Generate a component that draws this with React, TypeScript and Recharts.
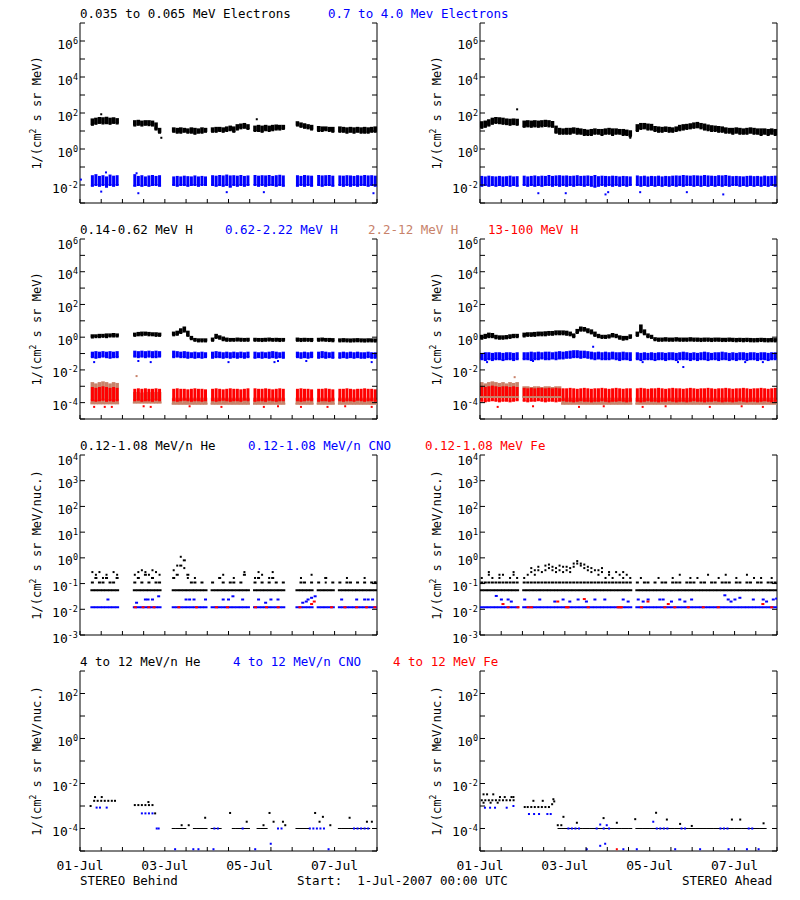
import React from 'react'
import { ScatterChart, Scatter, XAxis, YAxis, ErrorBar } from 'recharts'

const _ = null

// time axis: hours since 1-Jul-2007 00:00, slot i of a 2-hour array sits at hour 2i+1
const hourTicks = [0, 12, 24, 36, 48, 60, 72, 84, 96, 108, 120, 132, 144, 156, 168]
const dateTicks = [0, 48, 96, 144]
const dateLabels = ['01-Jul', '03-Jul', '05-Jul', '07-Jul']

// y ticks per row
const row1Ticks = [1e-3, 1e-2, 1e-1, 1, 10, 1e2, 1e3, 1e4, 1e5, 1e6, 1e7]
const row1Labels = [1e-2, 1, 1e2, 1e4, 1e6]
const row2Ticks = [1e-5, 1e-4, 1e-3, 1e-2, 1e-1, 1, 10, 1e2, 1e3, 1e4, 1e5, 1e6]
const row2Labels = [1e-4, 1e-2, 1, 1e2, 1e4, 1e6]
const row3Ticks = [1e-3, 1e-2, 1e-1, 1, 10, 1e2, 1e3, 1e4]
const row3Labels = [1e-3, 1e-2, 1e-1, 1, 10, 1e2, 1e3, 1e4]
const row4Ticks = [1e-5, 1e-4, 1e-3, 1e-2, 1e-1, 1, 10, 1e2, 1e3]
const row4Labels = [1e-4, 1e-2, 1, 1e2]

// ---------- row 1: electrons, STEREO Behind ----------
const e1BkLoB = [
  _, _, _, 22, 25, 28, 26, 27, 25, 28, 26, _,
  _, _, _, 20, 22, 20, 22, 21, 20, 12, 8, _,
  _, _, 9, 8, 8, 9, 8, 8, 7, 8, 8, 9,
  _, 9, 9, 10, 9, 10, 11, 9, 12, 14, 15, 13,
  _, 10, 10, 9, 11, 10, 11, 12, 12, 13, _, _,
  _, 20, 17, 15, 14, 12, _, 10, 10, 11, 10, 9,
  _, 9, 9, 8, 9, 8, 9, 8, 8, 8, 9, 9,
]
const e1BkHiB = [
  _, _, _, 50, 55, 60, 58, 62, 55, 58, 52, _,
  _, _, _, 40, 42, 38, 40, 40, 38, 30, 15, _,
  _, _, 16, 15, 16, 15, 14, 16, 15, 14, 16, 15,
  _, 16, 17, 17, 16, 18, 20, 18, 24, 26, 28, 24,
  _, 20, 22, 20, 22, 20, 22, 23, 22, 22, _, _,
  _, 35, 30, 27, 24, 22, _, 19, 18, 18, 17, 17,
  _, 18, 17, 16, 17, 16, 17, 16, 17, 16, 17, 18,
]
const e1BlLoB = [
  _, _, _, .009, .01, .009, .01, .008, .01, .009, .01, _,
  _, _, _, .009, .01, .009, .01, .009, .01, .01, .009, _,
  _, _, .01, .009, .01, .01, .009, .01, .01, .009, .01, .01,
  _, .01, .009, .01, .009, .01, .008, .01, .009, .01, .009, .01,
  _, .01, .009, .01, .009, .01, .01, .009, .01, .009, _, _,
  _, .009, .01, .009, .01, .009, _, .01, .009, .01, .01, .009,
  _, .01, .009, .01, .009, .01, .009, .01, .01, .009, .01, .009,
]
const e1BlHiB = [
  _, _, _, .035, .04, .032, .035, .03, .038, .033, .035, _,
  _, _, _, .04, .032, .035, .03, .034, .036, .032, .035, _,
  _, _, .03, .032, .03, .033, .031, .03, .034, .03, .032, .03,
  _, .035, .033, .036, .034, .038, .034, .035, .033, .036, .032, .034,
  _, .036, .033, .035, .034, .036, .032, .035, .037, .034, _, _,
  _, .035, .032, .036, .034, .033, _, .036, .034, .035, .036, .033,
  _, .034, .033, .035, .034, .032, .035, .033, .036, .034, .035, .033,
]
const e1BkOutB = [[12, 85], [46, 4.2], [100, 45]]
const e1BlOutB = [[0.5, .02], [12, .0043], [14.7, .05], [32, .045], [33, .0035], [83, .004], [104, .004], [166, .0035]]

// ---------- row 1: electrons, STEREO Ahead ----------
const e1BkLoA = [
  15, 17, 20, 25, 28, 27, 25, 24, 22, 24, 22, _,
  17, 18, 17, 18, 17, 18, 19, 18, 17, 8, 7, 7,
  7, 7, 8, 7, 7, 6, 6, 6, 7, 7, 6, 7,
  7, 6, 7, 7, 6, 6, 5, _, 10, 13, 14, 12,
  12, 10, 9, 9, 10, 9, 9, 10, 11, 12, 13, 14,
  15, 16, 14, 12, 11, 10, 10, 9, 9, 8, 8, 7,
  8, 7, 7, 7, 8, 7, 7, 6, 7, 6, 7, 6,
]
const e1BkHiA = [
  35, 38, 45, 55, 60, 58, 55, 50, 48, 50, 48, _,
  38, 40, 38, 40, 38, 40, 42, 40, 36, 20, 15, 14,
  15, 15, 16, 15, 14, 13, 12, 13, 14, 13, 13, 14,
  15, 14, 14, 13, 13, 12, 11, _, 24, 28, 28, 26,
  25, 19, 18, 17, 18, 17, 16, 18, 22, 24, 25, 27,
  30, 32, 28, 26, 23, 21, 20, 19, 18, 16, 15, 15,
  16, 15, 14, 15, 16, 15, 14, 14, 14, 13, 14, 13,
]
const e1BlLoA = [
  .009, .01, .009, .01, .009, .01, .009, .01, .009, .01, .009, _,
  .01, .009, .01, .009, .01, .009, .01, .01, .009, .01, .009, .01,
  .009, .01, .009, .01, .01, .009, .01, .009, .008, .009, .01, .009,
  .01, .009, .01, .009, .01, .009, .01, _, .01, .009, .01, .009,
  .01, .009, .01, .009, .01, .009, .01, .009, .01, .009, .01, .01,
  .009, .01, .009, .01, .009, .01, .009, .01, .009, .01, .009, .01,
  .01, .009, .01, .009, .01, .009, .01, .009, .01, .009, .01, .009,
]
const e1BlHiA = [
  .032, .03, .033, .031, .03, .032, .03, .031, .033, .03, .031, _,
  .033, .03, .032, .034, .031, .033, .032, .036, .032, .034, .035, .033,
  .034, .032, .033, .035, .032, .033, .034, .032, .036, .031, .033, .032,
  .031, .033, .032, .03, .032, .031, .03, _, .034, .031, .033, .03,
  .032, .031, .033, .03, .032, .031, .033, .034, .033, .036, .034, .033,
  .035, .034, .033, .036, .034, .033, .032, .035, .034, .036, .033, .031,
  .032, .031, .03, .032, .033, .031, .032, .03, .033, .031, .032, .033,
]
const e1BkOutA = [[21, 160], [85, 4.2]]
const e1BlOutA = [[33, .0035], [48.5, .0035], [71, .003], [72.5, .004], [90.6, .004], [117, .004], [137.6, .003]]

// ---------- row 2: protons, Behind ----------
const h2BkLoB = [
  _, _, _, .95, 1, 1, 1.05, 1, 1.1, 1.1, 1.1, _,
  _, _, _, 1.2, 1.3, 1.3, 1.4, 1.3, 1.3, 1.2, 1.2, _,
  _, _, 1.3, 1.4, 1.8, 2.2, 1.2, .75, .6, .55, .55, .55,
  _, .6, .9, .8, .65, .6, .6, .6, .62, .6, .6, .6,
  _, .6, .6, .58, .6, .62, .6, .6, .58, .6, _, _,
  _, .6, .58, .6, .6, .58, _, .6, .62, .6, .58, .56,
  _, .55, .56, .55, .54, .55, .56, .55, .54, .55, .55, .54,
]
const h2BkHiB = [
  _, _, _, 1.5, 1.5, 1.6, 1.6, 1.7, 1.7, 1.8, 1.7, _,
  _, _, _, 1.9, 2.1, 2.2, 2.2, 2.1, 2, 2, 1.9, _,
  _, _, 2.2, 2.5, 3.5, 4.5, 2.5, 1.2, .9, .85, .85, .85,
  _, .95, 1.6, 1.3, 1.1, .95, .9, .9, .95, .92, .9, .92,
  _, .92, .9, .9, .92, .95, .9, .92, .9, .9, _, _,
  _, .95, .9, .92, .9, .9, _, .92, .95, .9, .9, .88,
  _, .85, .88, .85, .84, .86, .88, .85, .84, .86, .85, .84,
]
const h2BlLoB = [
  _, _, _, .06, .055, .06, .065, .06, .055, .06, .06, _,
  _, _, _, .065, .06, .065, .06, .065, .06, .06, .065, _,
  _, _, .06, .065, .06, .06, .055, .06, .055, .06, .055, .06,
  _, .055, .06, .06, .055, .06, .055, .06, .055, .06, .055, .06,
  _, .055, .06, .055, .06, .055, .06, .055, .06, .055, _, _,
  _, .06, .055, .06, .055, .06, _, .055, .06, .055, .06, .055,
  _, .055, .06, .055, .06, .055, .06, .055, .055, .06, .055, .055,
]
const h2BlHiB = [
  _, _, _, .13, .14, .13, .14, .13, .14, .13, .14, _,
  _, _, _, .15, .14, .15, .14, .15, .14, .15, .14, _,
  _, _, .15, .14, .13, .14, .13, .12, .13, .12, .13, .12,
  _, .13, .14, .13, .12, .13, .12, .13, .12, .13, .12, .13,
  _, .13, .12, .13, .12, .13, .14, .13, .12, .13, _, _,
  _, .13, .12, .13, .12, .13, _, .13, .14, .13, .12, .13,
  _, .12, .13, .12, .13, .12, .13, .12, .12, .13, .12, .12,
]
const h2SaLoB = [
  _, _, _, 9e-5, 9e-5, 9e-5, 9e-5, 9e-5, 9e-5, 9e-5, 9e-5, _,
  _, _, _, 1e-4, 1e-4, 1e-4, 1e-4, 1e-4, 1e-4, 1e-4, 1e-4, _,
  _, _, 8.5e-5, 8.5e-5, 8.5e-5, 8.5e-5, 8.5e-5, 8.5e-5, 8.5e-5, 8.5e-5, 8.5e-5, 8.5e-5,
  _, 8.5e-5, 8.5e-5, 8.5e-5, 8.5e-5, 8.5e-5, 8.5e-5, 8.5e-5, 8.5e-5, 8.5e-5, 8.5e-5, 8.5e-5,
  _, 8.5e-5, 8.5e-5, 8.5e-5, 8.5e-5, 8.5e-5, 8.5e-5, 8.5e-5, 8.5e-5, 8.5e-5, _, _,
  _, 8.5e-5, 8.5e-5, 8.5e-5, 8.5e-5, 8.5e-5, _, 8.5e-5, 8.5e-5, 8.5e-5, 8.5e-5, 8.5e-5,
  _, 8.5e-5, 8.5e-5, 8.5e-5, 8.5e-5, 8.5e-5, 8.5e-5, 8.5e-5, 8.5e-5, 8.5e-5, 8.5e-5, 8.5e-5,
]
const h2SaHiB = [
  _, _, _, 1.8e-3, 1.5e-3, 1.8e-3, 2e-3, 1.8e-3, 1.5e-3, 1.8e-3, 1.6e-3, _,
  _, _, _, 4.5e-4, 4.5e-4, 4e-4, 4.5e-4, 4.5e-4, 4e-4, 4.5e-4, 4.5e-4, _,
  _, _, 2e-4, 2e-4, 2e-4, 2e-4, 2e-4, 2e-4, 2e-4, 2e-4, 2e-4, 2e-4,
  _, 2e-4, 2e-4, 2e-4, 2e-4, 2e-4, 2e-4, 2e-4, 2e-4, 2e-4, 2e-4, 2e-4,
  _, 2e-4, 2e-4, 2e-4, 2e-4, 2e-4, 2e-4, 2e-4, 2e-4, 2e-4, _, _,
  _, 2e-4, 2e-4, 2e-4, 2e-4, 2e-4, _, 2e-4, 2e-4, 2e-4, 2e-4, 2e-4,
  _, 2e-4, 2e-4, 2e-4, 2e-4, 2e-4, 2e-4, 2e-4, 2e-4, 2e-4, 2e-4, 2e-4,
]
const h2RdLoB = [
  _, _, _, 1.4e-4, 1.3e-4, 1.4e-4, 1.5e-4, 1.3e-4, 1.4e-4, 1.3e-4, 1.4e-4, _,
  _, _, _, 1.4e-4, 1.5e-4, 1.3e-4, 1.4e-4, 1.4e-4, 1.3e-4, 1.5e-4, 1.4e-4, _,
  _, _, 1.4e-4, 1.3e-4, 1.4e-4, 1.5e-4, 1.4e-4, 1.3e-4, 1.4e-4, 1.4e-4, 1.3e-4, 1.4e-4,
  _, 1.4e-4, 1.3e-4, 1.4e-4, 1.5e-4, 1.4e-4, 1.3e-4, 1.4e-4, 1.4e-4, 1.3e-4, 1.5e-4, 1.4e-4,
  _, 1.3e-4, 1.4e-4, 1.4e-4, 1.3e-4, 1.5e-4, 1.4e-4, 1.3e-4, 1.4e-4, 1.4e-4, _, _,
  _, 1.4e-4, 1.3e-4, 1.4e-4, 1.5e-4, 1.4e-4, _, 1.3e-4, 1.4e-4, 1.4e-4, 1.3e-4, 1.4e-4,
  _, 1.4e-4, 1.3e-4, 1.4e-4, 1.4e-4, 1.3e-4, 1.5e-4, 1.4e-4, 1.3e-4, 1.4e-4, 1.4e-4, 1.3e-4,
]
const h2RdHiB = [
  _, _, _, 9e-4, 8e-4, 9e-4, 1e-3, 9e-4, 8e-4, 9e-4, 8e-4, _,
  _, _, _, 7e-4, 7.5e-4, 7e-4, 7.5e-4, 7e-4, 7e-4, 7.5e-4, 7e-4, _,
  _, _, 7e-4, 7.5e-4, 7e-4, 7e-4, 6.5e-4, 7e-4, 7.5e-4, 7e-4, 7e-4, 6.5e-4,
  _, 7e-4, 7.5e-4, 7e-4, 6.5e-4, 7e-4, 7.5e-4, 7e-4, 7e-4, 6.5e-4, 7e-4, 7.5e-4,
  _, 7.5e-4, 7e-4, 7e-4, 7.5e-4, 7e-4, 6.5e-4, 7e-4, 7.5e-4, 7e-4, _, _,
  _, 7e-4, 7.5e-4, 7e-4, 7e-4, 6.5e-4, _, 7e-4, 7e-4, 7.5e-4, 7e-4, 6.5e-4,
  _, 7e-4, 7e-4, 7.5e-4, 7e-4, 6.5e-4, 7e-4, 7e-4, 7.5e-4, 7e-4, 7e-4, 6.5e-4,
]
const h2BlOutB = [[8, .03], [33, .035], [40, .03], [84, .03], [110, .03], [112, .035], [128, .035], [165, .03]]
const h2SaOutB = [[32, 4.2e-3]]
const h2RdOutB = [[8, 5.5e-5], [14, 5.5e-5], [18, 5.5e-5], [36, 6e-5], [40, 5.5e-5], [62, 6e-5], [80, 5.5e-5], [104, 5.5e-5], [112, 6e-5], [125, 5.5e-5], [140, 5.5e-5], [150, 6e-5], [165, 5.5e-5]]

// ---------- row 2: protons, Ahead ----------
const h2BkLoA = [
  .8, .9, 1, 1, .85, .8, .8, .85, .9, 1, 1, _,
  1.1, 1.2, 1.2, 1.2, 1.3, 1.3, 1.3, 1.4, 1.4, 1.5, 1.5, 1.5,
  1.4, 1.3, 1, 1.8, 2.5, 2.5, 2, 1.7, 1.2, 1, .9, .9,
  .95, 1.1, 1, .8, .7, .75, .9, _, 1.2, 2, 1.5, 1,
  .9, .65, .6, .6, .62, .6, .6, .62, .6, .6, .6, .62,
  .6, .6, .58, .6, .6, .58, .6, .6, .58, .58, .6, .58,
  .56, .58, .56, .58, .56, .55, .56, .58, .56, .55, .56, .55,
]
const h2BkHiA = [
  1.4, 1.6, 1.9, 1.8, 1.4, 1.3, 1.3, 1.35, 1.5, 1.6, 1.6, _,
  1.9, 2, 2, 2.1, 2.2, 2.2, 2.3, 2.4, 2.4, 2.6, 2.6, 2.6,
  2.5, 2.2, 1.7, 3.2, 4.5, 4.2, 3.5, 3, 2.2, 1.6, 1.4, 1.4,
  1.5, 1.8, 1.6, 1.3, 1.2, 1.2, 1.5, _, 2.2, 6, 3, 1.7,
  1.4, 1, .95, .95, 1, .95, .95, 1, .95, .95, .95, 1,
  .95, .95, .92, .95, .95, .92, .95, .95, .92, .92, .95, .92,
  .9, .92, .9, .92, .9, .88, .9, .92, .9, .88, .9, .88,
]
const h2BlLoA = [
  .045, .04, .045, .04, .045, .045, .04, .045, .045, .04, .045, _,
  .045, .045, .04, .045, .045, .05, .045, .045, .05, .045, .05, .05,
  .055, .055, .06, .06, .055, .06, .055, .05, .045, .05, .045, .045,
  .045, .05, .045, .04, .045, .045, .04, _, .045, .04, .045, .045,
  .045, .04, .045, .045, .04, .045, .045, .04, .045, .045, .045, .04,
  .045, .04, .045, .045, .04, .045, .045, .04, .045, .045, .04, .045,
  .04, .045, .045, .04, .045, .045, .04, .045, .045, .04, .045, .045,
]
const h2BlHiA = [
  .11, .12, .12, .11, .12, .12, .11, .12, .12, .11, .12, _,
  .12, .12, .13, .12, .13, .12, .13, .13, .12, .13, .14, .13,
  .14, .15, .16, .16, .15, .15, .14, .13, .12, .13, .12, .13,
  .12, .13, .12, .12, .13, .12, .12, _, .12, .11, .12, .11,
  .12, .11, .12, .12, .11, .12, .12, .11, .12, .13, .12, .11,
  .12, .11, .12, .13, .12, .11, .12, .12, .13, .12, .11, .12,
  .11, .12, .12, .11, .12, .12, .11, .12, .12, .11, .12, .12,
]
const h2SaLoA = [
  2.2e-4, 2.2e-4, 2.2e-4, 2.2e-4, 2.2e-4, 2.2e-4, 2.2e-4, 2.2e-4, 2.2e-4, 2.2e-4, 2.2e-4, _,
  2.2e-4, 2.2e-4, 2.2e-4, 2.2e-4, 2.2e-4, 2.2e-4, 2.2e-4, 2.2e-4, 2.2e-4, 2.2e-4, 2.2e-4, 8.5e-5,
  8.5e-5, 8.5e-5, 8.5e-5, 8.5e-5, 8.5e-5, 8.5e-5, 8.5e-5, 8.5e-5, 8.5e-5, 8.5e-5, 8.5e-5, 8.5e-5,
  8.5e-5, 8.5e-5, 8.5e-5, 8.5e-5, 8.5e-5, 8.5e-5, 8.5e-5, _, 8.5e-5, 8.5e-5, 8.5e-5, 8.5e-5,
  8.5e-5, 8.5e-5, 8.5e-5, 8.5e-5, 8.5e-5, 8.5e-5, 8.5e-5, 8.5e-5, 8.5e-5, 8.5e-5, 8.5e-5, 8.5e-5,
  8.5e-5, 8.5e-5, 8.5e-5, 8.5e-5, 8.5e-5, 8.5e-5, 8.5e-5, 8.5e-5, 8.5e-5, 8.5e-5, 8.5e-5, 8.5e-5,
  8.5e-5, 8.5e-5, 8.5e-5, 8.5e-5, 8.5e-5, 8.5e-5, 8.5e-5, 8.5e-5, 8.5e-5, 8.5e-5, 8.5e-5, 8.5e-5,
]
const h2SaHiA = [
  1.8e-3, 1.5e-3, 1.8e-3, 2e-3, 1.8e-3, 1.6e-3, 1.8e-3, 1.5e-3, 1.8e-3, 1.6e-3, 1.8e-3, _,
  1e-3, 1e-3, 9e-4, 1e-3, 1e-3, 9e-4, 1e-3, 1e-3, 9e-4, 1e-3, 1e-3, 2e-4,
  2e-4, 2e-4, 2e-4, 2e-4, 2e-4, 2e-4, 2e-4, 2e-4, 2e-4, 2e-4, 2e-4, 2e-4,
  2e-4, 2e-4, 2e-4, 2e-4, 2e-4, 2e-4, 2e-4, _, 2e-4, 2e-4, 2e-4, 2e-4,
  2e-4, 2e-4, 2e-4, 2e-4, 2e-4, 2e-4, 2e-4, 2e-4, 2e-4, 2e-4, 2e-4, 2e-4,
  2e-4, 2e-4, 2e-4, 2e-4, 2e-4, 2e-4, 2e-4, 2e-4, 2e-4, 2e-4, 2e-4, 2e-4,
  2e-4, 2e-4, 2e-4, 2e-4, 2e-4, 2e-4, 2e-4, 2e-4, 2e-4, 2e-4, 2e-4, 2e-4,
]
const h2RdLoA = [
  1.3e-4, 1.2e-4, 1.3e-4, 1.4e-4, 1.3e-4, 1.2e-4, 1.3e-4, 1.3e-4, 1.2e-4, 1.3e-4, 1.4e-4, _,
  1.3e-4, 1.2e-4, 1.3e-4, 1.3e-4, 1.4e-4, 1.3e-4, 1.2e-4, 1.3e-4, 1.3e-4, 1.2e-4, 1.3e-4, 1.4e-4,
  1.3e-4, 1.3e-4, 1.2e-4, 1.3e-4, 1.4e-4, 1.3e-4, 1.3e-4, 1.2e-4, 1.3e-4, 1.3e-4, 1.4e-4, 1.3e-4,
  1.2e-4, 1.3e-4, 1.3e-4, 1.4e-4, 1.3e-4, 1.2e-4, 1.3e-4, _, 1.3e-4, 1.2e-4, 1.3e-4, 1.4e-4,
  1.3e-4, 1.3e-4, 1.2e-4, 1.3e-4, 1.3e-4, 1.4e-4, 1.3e-4, 1.2e-4, 1.3e-4, 1.3e-4, 1.2e-4, 1.3e-4,
  1.4e-4, 1.3e-4, 1.3e-4, 1.2e-4, 1.3e-4, 1.3e-4, 1.4e-4, 1.3e-4, 1.2e-4, 1.3e-4, 1.3e-4, 1.2e-4,
  1.3e-4, 1.4e-4, 1.3e-4, 1.2e-4, 1.3e-4, 1.3e-4, 1.2e-4, 1.3e-4, 1.4e-4, 1.3e-4, 1.2e-4, 1.3e-4,
]
const h2RdHiA = [
  1e-3, 9e-4, 1e-3, 1.1e-3, 1e-3, 9e-4, 1e-3, 1e-3, 9e-4, 1e-3, 9e-4, _,
  8e-4, 7.5e-4, 8e-4, 7.5e-4, 8e-4, 8e-4, 7.5e-4, 8e-4, 7.5e-4, 8e-4, 7.5e-4, 7.5e-4,
  7.5e-4, 8e-4, 7.5e-4, 7e-4, 7.5e-4, 8e-4, 7.5e-4, 7e-4, 7.5e-4, 7.5e-4, 8e-4, 7.5e-4,
  7e-4, 7.5e-4, 8e-4, 7.5e-4, 7e-4, 7.5e-4, 7.5e-4, _, 7.5e-4, 8e-4, 7.5e-4, 7e-4,
  7.5e-4, 7.5e-4, 8e-4, 7.5e-4, 7e-4, 7.5e-4, 8e-4, 7.5e-4, 7.5e-4, 7e-4, 7.5e-4, 8e-4,
  7.5e-4, 7e-4, 7.5e-4, 7.5e-4, 8e-4, 7.5e-4, 7e-4, 7.5e-4, 7.5e-4, 8e-4, 7.5e-4, 7e-4,
  7.5e-4, 7.5e-4, 8e-4, 7.5e-4, 7e-4, 7.5e-4, 7.5e-4, 8e-4, 7.5e-4, 7e-4, 7.5e-4, 8e-4,
]
const h2BlOutA = [[4, .03], [30, .035], [64, .26], [92, .03], [112, .03], [115, .015], [150, .03], [160, .03]]
const h2SaOutA = [[19.6, 3.6e-3]]
const h2RdOutA = [[10, 5.5e-5], [30, 6e-5], [56, 5.5e-5], [70, 6e-5], [92, 5.5e-5], [105, 6e-5], [130, 5.5e-5], [148, 6e-5], [160, 5.5e-5]]

// ---------- row 3: 0.12-1.08 MeV/n ions ----------
const he1 = 0.055
const cno1 = 0.012
const he3BaseB = [
  _, _, _, he1, he1, he1, he1, he1, he1, he1, he1, _,
  _, _, _, he1, he1, he1, he1, he1, he1, he1, he1, _,
  _, _, he1, he1, he1, he1, he1, he1, he1, he1, he1, he1,
  _, he1, he1, he1, he1, he1, he1, he1, he1, he1, he1, he1,
  _, he1, he1, he1, he1, he1, he1, he1, he1, he1, _, _,
  _, he1, he1, he1, he1, he1, _, he1, he1, he1, he1, he1,
  _, he1, he1, he1, he1, he1, he1, he1, he1, he1, he1, he1,
]
const he3Up1B = [
  _, _, _, .11, .165, .11, .11, .165, .11, .11, .165, _,
  _, _, _, .11, .165, .11, .22, .11, .165, .11, .11, _,
  _, _, .165, .22, .5, .8, .22, .11, .11, _, .11, _,
  _, .11, _, .165, .11, _, .11, .11, _, .11, .22, _,
  _, .11, .165, .11, _, .11, .165, .11, _, .11, _, _,
  _, _, .11, .11, _, .11, _, .11, _, .165, _, .11,
  _, .11, _, .11, .11, _, .11, _, .11, _, .11, .11,
]
const he3Up2B = [
  _, _, _, .28, .22, .28, .165, .22, _, .28, .22, _,
  _, _, _, .22, .28, .33, .28, .22, .33, .28, .22, _,
  _, _, .33, .5, 1.1, .4, .165, _, .165, _, _, _,
  _, _, _, _, .22, _, _, .165, _, _, .28, _,
  _, .165, .28, .22, _, .165, .28, _, _, _, _, _,
  _, _, .165, _, _, .22, _, _, _, .11, _, _,
  _, _, _, .165, _, _, _, _, .165, _, _, .11,
]
const cno3BaseB = [
  _, _, _, cno1, cno1, cno1, cno1, cno1, cno1, cno1, cno1, _,
  _, _, _, cno1, cno1, cno1, cno1, cno1, cno1, cno1, cno1, _,
  _, _, cno1, cno1, cno1, cno1, cno1, cno1, cno1, cno1, cno1, cno1,
  _, cno1, cno1, cno1, cno1, cno1, cno1, cno1, cno1, cno1, cno1, cno1,
  _, cno1, cno1, cno1, cno1, cno1, cno1, cno1, cno1, cno1, _, _,
  _, cno1, cno1, cno1, cno1, cno1, _, cno1, cno1, cno1, cno1, cno1,
  _, cno1, cno1, cno1, cno1, cno1, cno1, cno1, cno1, cno1, cno1, cno1,
]
const cno3ExtraB = [[15.8, .024], [32, .018], [37, .024], [38.5, .024], [41, .024], [44.5, .032], [60, .024], [62, .024], [64.5, .024], [71, .024], [81, .024], [84, .024], [86.5, .032], [92, .024], [101, .024], [105, .018], [108, .024], [112, .024], [126, .018], [128, .02], [129, .024], [131, .028], [133, .032], [148, .024], [156.5, .024], [161, .024], [163, .024], [165.5, .024]]
const fe3B = [[31.3, .012], [35.7, .012], [38.9, .012], [41.9, .012], [55.9, .012], [65.9, .012], [77.2, .012], [83.4, .012], [99.3, .012], [105.5, .012], [112.1, .012], [124.4, .012], [131, .016], [132.5, .02], [142.3, .012], [149.9, .012], [156.5, .012], [162.1, .012], [166.8, .012]]

const he3BaseA = [
  he1, he1, he1, he1, he1, he1, he1, he1, he1, he1, he1, _,
  he1, he1, he1, he1, he1, he1, he1, he1, he1, he1, he1, he1,
  he1, he1, he1, he1, he1, he1, he1, he1, he1, he1, he1, he1,
  he1, he1, he1, he1, he1, he1, he1, _, he1, he1, he1, he1,
  he1, he1, he1, he1, he1, he1, he1, he1, he1, he1, he1, he1,
  he1, he1, he1, he1, he1, he1, he1, he1, he1, he1, he1, he1,
  he1, he1, he1, he1, he1, he1, he1, he1, he1, he1, he1, he1,
]
const he3Up1A = [
  .11, .11, .11, .11, .11, .11, .11, .11, .11, .11, .11, _,
  .11, .11, .11, .11, .11, .11, .11, .11, .11, .11, .11, .11,
  .11, .11, .11, .11, .11, .11, .11, .11, .11, .11, .11, .11,
  .11, .11, .11, .11, .11, .11, .11, _, .11, _, .11, .11,
  _, .11, _, .11, .11, _, .11, .11, .11, _, .11, .11,
  .11, _, .11, .11, _, .11, .11, _, .11, .11, .11, _,
  .11, .11, _, .11, .11, _, .11, .11, _, .11, .11, .11,
]
const he3Up2A = [
  .165, _, .22, .165, _, .165, .22, _, .165, .22, .165, _,
  .165, .22, .28, .22, .33, .28, .33, .4, .33, .28, .33, .28,
  .33, .28, .45, .6, .5, .4, .33, .28, .33, .22, .28, .165,
  .22, .165, .28, .22, .165, .22, .165, _, _, .165, _, _,
  _, _, .165, _, _, _, .165, _, .22, _, _, .165,
  _, .165, _, _, .22, _, _, .165, _, .22, _, _,
  .165, _, _, .22, _, .165, _, .165, _, _, .165, _,
]
const he3Up3A = [
  _, _, .28, _, _, .22, _, _, _, .28, _, _,
  _, _, .4, .33, .45, _, .5, .55, .45, .4, .5, .45,
  .45, .4, .6, .75, .6, .55, .45, .4, _, .33, .4, _,
  .28, _, _, _, .28, _, _, _, _, _, _, _,
  _, _, _, _, _, _, _, _, _, _, _, _,
  _, _, _, _, _, _, _, _, _, _, _, _,
  _, _, _, _, _, _, _, _, _, _, _, _,
]
const cno3BaseA = [
  cno1, cno1, cno1, cno1, cno1, cno1, cno1, cno1, cno1, cno1, cno1, _,
  cno1, cno1, cno1, cno1, cno1, cno1, cno1, cno1, cno1, cno1, cno1, cno1,
  cno1, cno1, cno1, cno1, cno1, cno1, cno1, cno1, cno1, cno1, cno1, cno1,
  cno1, cno1, cno1, cno1, cno1, cno1, cno1, _, cno1, cno1, cno1, cno1,
  cno1, cno1, cno1, cno1, cno1, cno1, cno1, cno1, cno1, cno1, cno1, cno1,
  cno1, cno1, cno1, cno1, cno1, cno1, cno1, cno1, cno1, cno1, cno1, cno1,
  cno1, cno1, cno1, cno1, cno1, cno1, cno1, cno1, cno1, cno1, cno1, cno1,
]
const cno3ExtraA = [[9.2, .033], [12.1, .024], [15.9, .024], [17.7, .02], [25.3, .024], [33.8, .024], [42.3, .02], [47, .024], [50.8, .02], [55.5, .024], [60.2, .02], [65, .024], [70.6, .024], [81, .024], [83.8, .02], [89.5, .024], [92.3, .02], [95.1, .024], [101.7, .024], [103.6, .024], [108.3, .02], [113, .024], [115.9, .02], [119.7, .024], [138.5, .035], [140.4, .024], [142, .02], [144.2, .024], [147, .028], [154.6, .024], [160.2, .024], [162.1, .02], [165.9, .024], [167.8, .026]]
const fe3A = [[13, .016], [15.9, .012], [21.5, .012], [27.2, .012], [29.1, .012], [44, .02], [48.9, .012], [49.8, .012], [59, .025], [61.2, .012], [78.1, .012], [79.1, .012], [80, .012], [91.3, .012], [95, .02], [104.6, .012], [106.5, .016], [110.2, .012], [117.8, .012], [126.3, .012], [134.8, .012], [160, .016], [165, .012]]

// ---------- row 4: 4-12 MeV/n ions ----------
const he4LineB = [
  _, _, _, _, _, _, _, _, _, _, _, _,
  _, _, _, _, _, _, _, _, _, _, _, _,
  _, _, 1e-4, 1e-4, 1e-4, 1e-4, _, _, 1e-4, 1e-4, 1e-4, 1e-4,
  _, 1e-4, 1e-4, 1e-4, _, _, _, 1e-4, 1e-4, 1e-4, 1e-4, 1e-4,
  _, _, 1e-4, 1e-4, 1e-4, _, _, _, _, _, _, _,
  _, 1e-4, 1e-4, 1e-4, 1e-4, _, _, _, _, _, _, _,
  _, 1e-4, 1e-4, 1e-4, 1e-4, 1e-4, 1e-4, 1e-4, 1e-4, 1e-4, _, _,
]
const he4B = [[6, 1e-3], [8, 1.7e-3], [8.5, 2.5e-3], [10, 1.7e-3], [12, 1.7e-3], [12.3, 2.5e-3], [14, 1.7e-3], [16, 1.7e-3], [18, 1.7e-3], [19.8, 1.7e-3], [31, 1.1e-3], [33, 1.1e-3], [35, 1.1e-3], [37, 1.1e-3], [38.7, 1.5e-3], [39, 1.1e-3], [41, 1.1e-3], [42.5, 4.7e-4], [57.5, 1.4e-4], [61.5, 1.4e-4], [70.8, 3e-4], [84.9, 4.9e-4], [94.3, 2e-4], [103.8, 1.4e-4], [107.2, 4.9e-4], [109.5, 2e-4], [114.8, 2e-4], [116.1, 1.4e-4], [133, 4.9e-4], [135.5, 2e-4], [137.4, 3.3e-4], [141.6, 1.4e-4], [152.5, 3e-4], [162.3, 2e-4], [165.1, 2e-4]]
const cno4B = [[9.4, 8.5e-4], [11.3, 8.5e-4], [15.1, 8.5e-4], [35, 4.7e-4], [37, 4.7e-4], [39, 4.7e-4], [41, 4.7e-4], [43.4, 1e-4], [44.5, 1e-4], [53.8, 1.2e-5], [64.1, 1.2e-5], [67, 1.2e-5], [75.5, 1.2e-5], [76, 1e-4], [78, 1e-4], [92, 1e-4], [99.1, 1.2e-5], [107.9, 2.1e-5], [112, 1e-4], [114, 1e-4], [130, 1e-4], [132, 1e-4], [134, 1e-4], [136, 1e-4], [138, 1e-4], [140.6, 1.2e-5], [155, 1e-4], [157, 1e-4], [159, 1e-4], [161, 1e-4], [163, 1e-4]]

const he4LineA = [
  _, _, _, _, _, _, _, _, _, _, _, _,
  _, _, _, _, _, _, _, _, _, _, 1e-4, 1e-4,
  1e-4, 1e-4, 1e-4, 1e-4, 1e-4, 1e-4, 1e-4, 1e-4, 1e-4, 1e-4, 1e-4, 1e-4,
  1e-4, 1e-4, 1e-4, 1e-4, 1e-4, 1e-4, 1e-4, _, 1e-4, 1e-4, 1e-4, 1e-4,
  1e-4, 1e-4, 1e-4, 1e-4, 1e-4, 1e-4, 1e-4, 1e-4, 1e-4, 1e-4, 1e-4, 1e-4,
  1e-4, 1e-4, 1e-4, 1e-4, 1e-4, 1e-4, 1e-4, 1e-4, 1e-4, 1e-4, 1e-4, 1e-4,
  1e-4, 1e-4, 1e-4, 1e-4, 1e-4, 1e-4, 1e-4, 1e-4, 1e-4, _, _, _,
]
const he4A = [[1, 1.8e-3], [3, 1.8e-3], [5, 1.8e-3], [7, 1.8e-3], [9, 1.8e-3], [11, 1.8e-3], [13, 1.8e-3], [15, 1.8e-3], [17, 1.8e-3], [19, 1.8e-3], [2, 3.3e-3], [4, 3.3e-3], [7.5, 3.3e-3], [11.3, 2.5e-3], [14, 2.5e-3], [17.8, 2.5e-3], [18.9, 2.5e-3], [2, 1.4e-3], [6, 1.4e-3], [10, 1.4e-3], [25.3, 9e-4], [27, 9e-4], [29, 9e-4], [31, 9e-4], [33, 9e-4], [35, 9e-4], [37, 9e-4], [39, 9e-4], [30.2, 1.7e-3], [35.5, 1.7e-3], [40.8, 1.2e-3], [41.5, 2e-3], [42, 1.6e-3], [44, 1.4e-4], [46, 1.4e-4], [47.2, 3.3e-4], [54.8, 1.8e-4], [69.9, 2.9e-4], [77.4, 1.8e-4], [87.8, 2.6e-4], [99.6, 5e-4], [105.7, 2.5e-4], [113.2, 1.6e-4], [119.8, 1.3e-4], [142.5, 2.5e-4], [147.2, 2.5e-4], [160.4, 1.7e-4]]
const cno4A = [[2.8, 8.4e-4], [5.7, 8.4e-4], [8.5, 8.4e-4], [15.1, 8.4e-4], [18.9, 1e-3], [27.7, 4.4e-4], [30.6, 4.4e-4], [33.4, 4.4e-4], [38.1, 4.4e-4], [40, 4.4e-4], [50, 1e-4], [52, 1e-4], [54, 1e-4], [56, 1e-4], [60.4, 1.2e-5], [66, 1e-4], [68, 1.7e-5], [68, 1.5e-4], [70, 1e-4], [70.8, 2.1e-5], [71.7, 1.4e-4], [73, 1e-4], [81.1, 1.2e-5], [88.7, 1.2e-5], [98, 2e-4], [100, 1e-4], [102, 1e-4], [104, 1e-4], [106, 1e-4], [110.4, 1.2e-5], [114, 1e-4], [116, 1e-4], [124.5, 1.2e-5], [136, 1e-4], [138, 1e-4], [140, 1e-4], [140.6, 1.2e-5], [151, 1.2e-5], [152, 1e-4], [154, 1e-4], [157.6, 1.2e-5]]
const fe4A = [[77.4, 1.2e-5]]

// ---------- styling ----------
const FONT = '"DejaVu Sans Mono", monospace'
const BLACK = '#000000'
const BLUE = '#0000ff'
const SALMON = '#c8826a'
const RED = '#ff0000'

type Pt = { x: number; y: number; e?: number[] }
type Layer = { data: Pt[]; color: string; w?: number; h?: number; bar?: number }

// lo/hi 2-hour slots -> points with a vertical spread bar
const band = (lo: (number | null)[], hi: (number | null)[]): Pt[] => {
  const out: Pt[] = []
  lo.forEach((v, i) => {
    const h = hi[i]
    if (v != null && h != null) out.push({ x: 2 * i + 1, y: v, e: [0, h - v] })
  })
  return out
}
const slots = (vals: (number | null)[]): Pt[] => {
  const out: Pt[] = []
  vals.forEach((v, i) => {
    if (v != null) out.push({ x: 2 * i + 1, y: v })
  })
  return out
}
const pts = (list: number[][]): Pt[] => list.map(([x, y]) => ({ x, y }))

const dot = (color: string, w: number, h: number) => (p: any) =>
  p.cx == null || isNaN(p.cx) ? <g /> : <rect x={p.cx - w / 2} y={p.cy - h / 2} width={w} height={h} fill={color} />

function LeftTick(p: any) {
  const { x, y, payload, labelled, top } = p
  const exp = Math.round(Math.log10(payload.value))
  // IDL nudges the topmost label down a little
  const dy = payload.value === top ? 10 : 7.5
  return (
    <g>
      <line x1={x} x2={x + 5} y1={y} y2={y} stroke="#000" />
      {labelled.includes(payload.value) && (
        <text x={x - 2} y={y + dy} textAnchor="end" fontSize={13} fontFamily={FONT} fill="#000">
          10<tspan dy={-5} fontSize={8.5}>{exp}</tspan>
        </text>
      )}
    </g>
  )
}

function RightTick(p: any) {
  const { x, y } = p
  return <line x1={x} x2={x - 5} y1={y} y2={y} stroke="#000" />
}

function BottomTick(p: any) {
  const { x, y, payload, dates } = p
  const i = dateTicks.indexOf(payload.value)
  return (
    <g>
      <line x1={x} x2={x} y1={y} y2={y - 4} stroke="#000" />
      {dates && i >= 0 && (
        <text x={x} y={y + 19} textAnchor="middle" fontSize={13} fontFamily={FONT} fill="#000">
          {dateLabels[i]}
        </text>
      )}
    </g>
  )
}

function Panel({ left, top, domain, ticks, labelled, layers, dates }: any) {
  return (
    <div style={{ position: 'absolute', left, top: top - 10 }}>
      <ScatterChart width={400} height={220} margin={{ top: 10, right: 18, bottom: 0, left: 20 }}>
        <XAxis
          type="number"
          dataKey="x"
          domain={[0, 168]}
          ticks={hourTicks}
          interval={0}
          tickSize={0}
          tickMargin={0}
          tickLine={false}
          height={30}
          axisLine={{ stroke: '#000' }}
          allowDataOverflow
          tick={(tp: any) => <BottomTick {...tp} dates={dates} />}
        />
        <XAxis
          xAxisId="top"
          orientation="top"
          type="number"
          domain={[0, 168]}
          height={0}
          tick={false}
          tickLine={false}
          axisLine={{ stroke: '#000' }}
        />
        <YAxis
          type="number"
          dataKey="y"
          scale="log"
          domain={domain}
          ticks={ticks}
          interval={0}
          width={60}
          tickSize={0}
          tickMargin={0}
          tickLine={false}
          axisLine={{ stroke: '#000' }}
          allowDataOverflow
          tick={(tp: any) => <LeftTick {...tp} labelled={labelled} top={domain[1]} />}
        />
        <YAxis
          yAxisId="right"
          orientation="right"
          type="number"
          scale="log"
          domain={domain}
          ticks={ticks}
          interval={0}
          width={5}
          tickSize={0}
          tickMargin={0}
          tickLine={false}
          axisLine={{ stroke: '#000' }}
          allowDataOverflow
          tick={(tp: any) => <RightTick {...tp} />}
        />
        {layers.map((l: Layer, i: number) => (
          <Scatter key={i} data={l.data} fill={l.color} isAnimationActive={false} shape={dot(l.color, l.w ?? 2, l.h ?? 2)}>
            {l.bar ? (
              <ErrorBar dataKey="e" direction="y" width={0} strokeWidth={l.bar} stroke={l.color} isAnimationActive={false} />
            ) : null}
          </Scatter>
        ))}
      </ScatterChart>
    </div>
  )
}

const rowTops = [23, 239, 455, 671]

const panels = [
  {
    left: 0, top: rowTops[0], domain: [1e-3, 1e7], ticks: row1Ticks, labelled: row1Labels,
    layers: [
      { data: band(e1BkLoB, e1BkHiB), color: BLACK, w: 3, bar: 3.6 },
      { data: pts(e1BkOutB), color: BLACK },
      { data: band(e1BlLoB, e1BlHiB), color: BLUE, w: 3, bar: 3 },
      { data: pts(e1BlOutB), color: BLUE },
    ],
  },
  {
    left: 400, top: rowTops[0], domain: [1e-3, 1e7], ticks: row1Ticks, labelled: row1Labels,
    layers: [
      { data: band(e1BkLoA, e1BkHiA), color: BLACK, w: 3, bar: 3.6 },
      { data: pts(e1BkOutA), color: BLACK },
      { data: band(e1BlLoA, e1BlHiA), color: BLUE, w: 3, bar: 3 },
      { data: pts(e1BlOutA), color: BLUE },
    ],
  },
  {
    left: 0, top: rowTops[1], domain: [1e-5, 1e6], ticks: row2Ticks, labelled: row2Labels,
    layers: [
      { data: band(h2BkLoB, h2BkHiB), color: BLACK, w: 3, bar: 3.6 },
      { data: band(h2BlLoB, h2BlHiB), color: BLUE, w: 3, bar: 3.2 },
      { data: pts(h2BlOutB), color: BLUE },
      { data: band(h2SaLoB, h2SaHiB), color: SALMON, w: 4, bar: 3.6 },
      { data: pts(h2SaOutB), color: SALMON },
      { data: band(h2RdLoB, h2RdHiB), color: RED, w: 3, bar: 3 },
      { data: pts(h2RdOutB), color: RED },
    ],
  },
  {
    left: 400, top: rowTops[1], domain: [1e-5, 1e6], ticks: row2Ticks, labelled: row2Labels,
    layers: [
      { data: band(h2BkLoA, h2BkHiA), color: BLACK, w: 3, bar: 3.6 },
      { data: band(h2BlLoA, h2BlHiA), color: BLUE, w: 3, bar: 3.2 },
      { data: pts(h2BlOutA), color: BLUE },
      { data: band(h2SaLoA, h2SaHiA), color: SALMON, w: 4, bar: 3.6 },
      { data: pts(h2SaOutA), color: SALMON },
      { data: band(h2RdLoA, h2RdHiA), color: RED, w: 3, bar: 3 },
      { data: pts(h2RdOutA), color: RED },
    ],
  },
  {
    left: 0, top: rowTops[2], domain: [1e-3, 1e4], ticks: row3Ticks, labelled: row3Labels,
    layers: [
      { data: slots(he3BaseB), color: BLACK, w: 4, h: 2 },
      { data: slots(he3Up1B), color: BLACK, w: 3, h: 2 },
      { data: slots(he3Up2B), color: BLACK, w: 2, h: 2 },
      { data: slots(cno3BaseB), color: BLUE, w: 4, h: 2 },
      { data: pts(cno3ExtraB), color: BLUE, w: 3, h: 2 },
      { data: pts(fe3B), color: RED, w: 3, h: 2 },
    ],
  },
  {
    left: 400, top: rowTops[2], domain: [1e-3, 1e4], ticks: row3Ticks, labelled: row3Labels,
    layers: [
      { data: slots(he3BaseA), color: BLACK, w: 4, h: 2 },
      { data: slots(he3Up1A), color: BLACK, w: 3, h: 2 },
      { data: slots(he3Up2A), color: BLACK, w: 2, h: 2 },
      { data: slots(he3Up3A), color: BLACK, w: 2, h: 2 },
      { data: slots(cno3BaseA), color: BLUE, w: 4, h: 2 },
      { data: pts(cno3ExtraA), color: BLUE, w: 3, h: 2 },
      { data: pts(fe3A), color: RED, w: 3, h: 2 },
    ],
  },
  {
    left: 0, top: rowTops[3], domain: [1e-5, 1e3], ticks: row4Ticks, labelled: row4Labels, dates: true,
    layers: [
      { data: slots(he4LineB), color: BLACK, w: 4, h: 1 },
      { data: pts(he4B), color: BLACK, w: 2, h: 2 },
      { data: pts(cno4B), color: BLUE, w: 2, h: 2 },
    ],
  },
  {
    left: 400, top: rowTops[3], domain: [1e-5, 1e3], ticks: row4Ticks, labelled: row4Labels, dates: true,
    layers: [
      { data: slots(he4LineA), color: BLACK, w: 4, h: 1 },
      { data: pts(he4A), color: BLACK, w: 2, h: 2 },
      { data: pts(cno4A), color: BLUE, w: 2, h: 2 },
      { data: pts(fe4A), color: RED, w: 2, h: 2 },
    ],
  },
]

const titles: [number, number, string, string][] = [
  [80, 18, '0.035 to 0.065 MeV Electrons', BLACK],
  [328, 18, '0.7 to 4.0 Mev Electrons', BLUE],
  [80, 234, '0.14-0.62 MeV H', BLACK],
  [225, 234, '0.62-2.22 MeV H', BLUE],
  [368, 234, '2.2-12 MeV H', SALMON],
  [488, 234, '13-100 MeV H', RED],
  [80, 450, '0.12-1.08 MeV/n He', BLACK],
  [248, 450, '0.12-1.08 MeV/n CNO', BLUE],
  [425, 450, '0.12-1.08 MeV Fe', RED],
  [80, 666, '4 to 12 MeV/n He', BLACK],
  [233, 666, '4 to 12 MeV/n CNO', BLUE],
  [393, 666, '4 to 12 MeV Fe', RED],
  [80, 885, 'STEREO Behind', BLACK],
  [297, 885, 'Start:  1-Jul-2007 00:00 UTC', BLACK],
  [682, 885, 'STEREO Ahead', BLACK],
]

const yUnits = ['MeV)', 'MeV)', 'MeV/nuc.)', 'MeV/nuc.)']

export default function App() {
  return (
    <div style={{ position: 'absolute', left: 0, top: 0, width: 800, height: 900, background: '#fff' }}>
      {panels.map((p, i) => (
        <Panel key={i} {...p} />
      ))}
      <svg width={800} height={900} style={{ position: 'absolute', left: 0, top: 0, pointerEvents: 'none' }}>
        {titles.map(([x, y, t, c], i) => (
          <text key={i} x={x} y={y} fontSize={12.5} fontFamily={FONT} fill={c} style={{ whiteSpace: 'pre' }}>
            {t}
          </text>
        ))}
        {rowTops.map((t, r) =>
          [0, 400].map((dx) => (
            <text
              key={`${r}-${dx}`}
              transform={`translate(${dx + 41}, ${t + 90}) rotate(-90)`}
              textAnchor="middle"
              fontSize={12}
              fontFamily={FONT}
              fill="#000"
            >
              1/(cm<tspan dy={-5} fontSize={8}>2</tspan>
              <tspan dy={5}> s sr {yUnits[r]}</tspan>
            </text>
          ))
        )}
      </svg>
    </div>
  )
}
